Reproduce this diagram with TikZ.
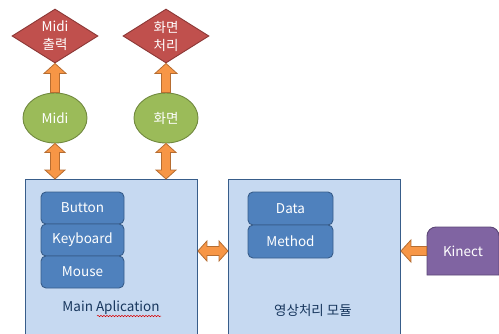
\documentclass[tikz,border=0pt]{standalone}
\usepackage{fontspec}
\setmainfont{Noto Sans CJK KR}
\usetikzlibrary{calc}
\usetikzlibrary{shapes.geometric}
\usetikzlibrary{decorations.pathmorphing}

\definecolor{redfill}{HTML}{C0504D}
\definecolor{redline}{HTML}{8C3836}
\definecolor{greenfill}{HTML}{9BBB59}
\definecolor{greenline}{HTML}{71893F}
\definecolor{orangefill}{HTML}{F79646}
\definecolor{orangeline}{HTML}{B66D31}
\definecolor{panelfill}{HTML}{C6D9F1}
\definecolor{bluefill}{HTML}{4F81BD}
\definecolor{blueline}{HTML}{385D8A}
\definecolor{navytext}{HTML}{17365D}
\definecolor{purplefill}{HTML}{8064A2}
\definecolor{purpleline}{HTML}{5C4776}

\def\fatarrow[#1](#2)(#3)% Syntax: [draw options] (tail) (tip)
{ \coordinate (fa-h) at ($(#3)!10pt!(#2)$);
  \draw[#1] ($(#2)!4.5pt!90:(#3)$) -- ($(fa-h)!4.5pt!90:(#3)$) -- ($(fa-h)!11pt!90:(#3)$) -- (#3)
    -- ($(fa-h)!11pt!-90:(#3)$) -- ($(fa-h)!4.5pt!-90:(#3)$) -- ($(#2)!4.5pt!-90:(#3)$) -- cycle; }
\def\fatdoublearrow[#1](#2)(#3)% Syntax: [draw options] (end) (end)
{ \coordinate (fa-h) at ($(#3)!9pt!(#2)$);
  \coordinate (fa-t) at ($(#2)!9pt!(#3)$);
  \draw[#1] (#2) -- ($(fa-t)!10pt!90:(#3)$) -- ($(fa-t)!4.5pt!90:(#3)$) -- ($(fa-h)!4.5pt!90:(#3)$)
    -- ($(fa-h)!10pt!90:(#3)$) -- (#3) -- ($(fa-h)!10pt!-90:(#3)$) -- ($(fa-h)!4.5pt!-90:(#3)$)
    -- ($(fa-t)!4.5pt!-90:(#3)$) -- ($(fa-t)!10pt!-90:(#3)$) -- cycle; }

\begin{document}
\begin{tikzpicture}[x=1pt,y=-1pt,
	font=\fontsize{13.5}{18}\selectfont,
	decision/.style={diamond,aspect=1.6,draw=redline,fill=redfill,line width=0.9pt,inner sep=0pt,
		minimum width=86pt,minimum height=54pt,text=white,align=center},
	module/.style={ellipse,draw=greenline,fill=greenfill,line width=0.9pt,inner sep=0pt,
		minimum width=64pt,minimum height=50pt,text=white},
	panel/.style={rectangle,draw=blueline,fill=panelfill,line width=0.9pt,anchor=north west,
		minimum width=172pt,minimum height=170pt},
	item/.style={rectangle,rounded corners=5pt,draw=blueline,fill=bluefill,line width=0.9pt,
		minimum height=32pt,text=white},
	fat/.style={draw=orangeline,fill=orangefill,line width=0.8pt,line join=miter},
	paneltext/.style={text=navytext}]
	\useasboundingbox (0,0) rectangle (499,333);
	\clip (0,0) rectangle (499,333);

	%OUTPUTS
	\node[decision] (midiout) at (55,36) {Midi\\출력};
	\node[decision] (screenout) at (166,36) {화면\\처리};
	\node[module] (midi) at (55,118) {Midi};
	\node[module] (screen) at (166,118) {화면};

	%PANELS
	\node[panel] (mainapp) at (25,179) {};
	\node[panel] (vision) at (228,179) {};
	\node[paneltext] (mainlabel) at (111,308) {Main Aplication};
	\node[paneltext] (visionlabel) at (313,310) {영상처리 모듈};
	\draw[red!85!black,line width=0.5pt,decorate,decoration={snake,segment length=3pt,amplitude=0.7pt}]
		(97,316)--(161,316);	%spell check mark

	%ITEMS
	\node[item,minimum width=83pt] (button) at (82.5,208) {Button};
	\node[item,minimum width=83pt] (keyboard) at (82.5,240) {Keyboard};
	\node[item,minimum width=83pt] (mouse) at (82.5,272) {Mouse};
	\node[item,minimum width=85pt,minimum height=33pt] (data) at (290.5,208.5) {Data};
	\node[item,minimum width=85pt,minimum height=33pt] (method) at (290.5,241.5) {Method};

	%KINECT
	\coordinate (kinect-sw) at (427,275);
	\coordinate (kinect-ne) at (499,227);
	\draw[draw=purpleline,fill=purplefill,line width=0.9pt] (kinect-sw)
		{[rounded corners=9pt] -- (kinect-sw |- kinect-ne) -- (kinect-ne)} -- (kinect-ne |- kinect-sw) -- cycle;
	\node[text=white,minimum width=72pt,minimum height=48pt,inner sep=0pt] (kinect)
		at ($(kinect-sw)!0.5!(kinect-ne)$) {Kinect};

	%ARROWS
	\coordinate (mainapp-midi) at (midi.south |- mainapp.north);
	\coordinate (mainapp-screen) at (screen.south |- mainapp.north);
	\coordinate (vision-kinect) at (vision.east |- kinect.west);
	\coordinate (mainapp-vision) at (mainapp.east |- kinect.west);
	\coordinate (vision-mainapp) at (vision.west |- kinect.west);
	\fatarrow[fat](midi.north)(midiout.south)
	\fatarrow[fat](screen.north)(screenout.south)
	\fatdoublearrow[fat](midi.south)(mainapp-midi)
	\fatdoublearrow[fat](screen.south)(mainapp-screen)
	\fatdoublearrow[fat](mainapp-vision)(vision-mainapp)
	\fatarrow[fat](kinect.west)(vision-kinect)
\end{tikzpicture}
\end{document}
